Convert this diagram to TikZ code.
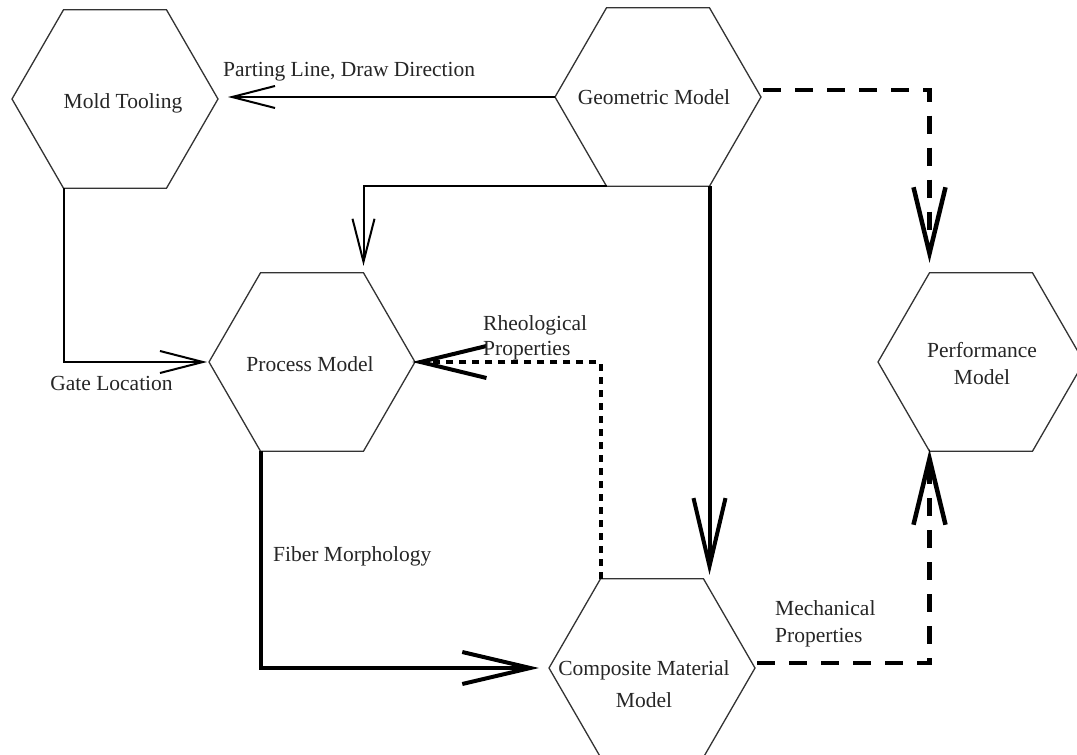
\documentclass[tikz,border=0pt]{standalone}
\usepackage{fontspec}
\setmainfont{Liberation Serif}
\usetikzlibrary{arrows.meta,shapes.geometric,calc}
\begin{document}
\begin{tikzpicture}[x=1pt,y=-1pt,
  hexa/.style={regular polygon, regular polygon sides=6, minimum size=206pt,
    inner sep=0pt, outer sep=0pt, draw=black!80, line width=1.3pt},
  txt/.style={font=\fontsize{21.5}{27}\selectfont, text=black!85, inner sep=0pt},
  conn/.style={draw, line width=2pt, -{Straight Barb[length=43pt,width=22pt]}},
  bigconn/.style={draw, line width=4pt, -{Straight Barb[length=68pt,width=32pt]}},
  dotconn/.style={draw, line width=4pt, dash pattern=on 7pt off 6pt,
    -{Straight Barb[length=66pt,width=32pt]}},
  dashconn/.style={draw, line width=4.5pt, dash pattern=on 18pt off 14pt,
    -{Straight Barb[length=66pt,width=32pt]}}
]
\useasboundingbox (0,0) rectangle (1077,755);
\clip (0,0) rectangle (1077,755);
\fill[white] (0,0) rectangle (1077,755);

% hexagons
\node[hexa] (mold) at (115,99) {};
\node[hexa] (geo)  at (658,97) {};
\node[hexa] (proc) at (312,362) {};
\node[hexa] (comp) at (652,668) {};
\node[hexa] (perf) at (981,362) {};

% hexagon texts
\node[txt] (moldT) at (123,103) {Mold Tooling};
\node[txt] (geoT)  at (654,97) {Geometric Model};
\node[txt] (procT) at (310,364) {Process Model};
\node[txt, align=center, font=\fontsize{21.5}{32}\selectfont] (compT) at (644,684) {Composite Material\\Model};
\node[txt, align=center] (perfT) at (982,363.5) {Performance\\Model};

% connectors
\draw[conn, shorten >=10pt] (geo.west) -- (geo.west -| mold.east);
\draw[conn, shorten >=7pt] (geo.240) -| (proc.60);
\draw[bigconn, shorten >=4pt] (geo.300) -- (geo.300 |- comp.north);
\draw[conn, shorten >=2pt] (mold.240) |- (proc.west);
\draw[bigconn, shorten >=10pt] (proc.240) |- (comp.west);
\draw[dotconn, shorten >=-3pt] (comp.120) |- (proc.east);
\draw[dashconn, shorten >=10pt] ($(geo.east)+(2,-7)$) -| (perf.120);
\draw[dashconn, shorten >=-2pt] ($(comp.east)+(2,-5)$) -| (perf.240);

% labels
\node[txt, anchor=west] (lPart) at (223,72) {Parting Line, Draw Direction};
\node[txt] (lGate) at (111.5,383) {Gate Location};
\node[txt, anchor=west] (lFib) at (273,556) {Fiber Morphology};
\node[txt, anchor=west, align=left, font=\fontsize{21.5}{25}\selectfont] (lRheo) at (483,337.5) {Rheological\\Properties};
\node[txt, anchor=west, align=left] (lMech) at (775,623.5) {Mechanical\\Properties};
\end{tikzpicture}
\end{document}
